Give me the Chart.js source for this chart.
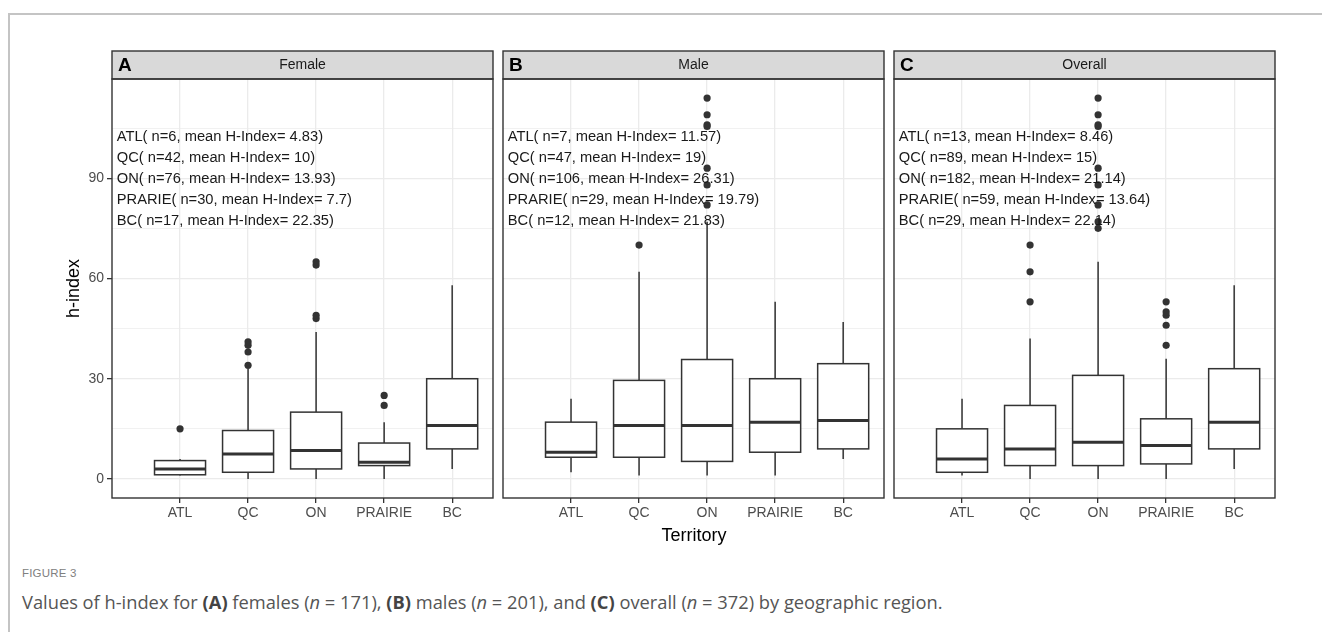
<!DOCTYPE html>
<html>
<head>
<meta charset="utf-8">
<script src="https://cdn.jsdelivr.net/npm/chart.js@4.4.1/dist/chart.umd.min.js"></script>
<style>
  body { margin: 0; background: #fff; width: 1322px; height: 632px; overflow: hidden; position: relative; font-family: 'Liberation Sans', Arial, sans-serif; }
  #frame { position: absolute; left: 8px; top: 13px; right: -4px; bottom: -4px; border-left: 2px solid #c4c4c4; border-top: 2px solid #c4c4c4; }
  canvas { position: absolute; }
  #xtitle { position: absolute; left: 594px; width: 200px; top: 525px; text-align: center; font-size: 18px; color: #000; }
  #figlabel { position: absolute; left: 22px; top: 567px; font-family: 'Liberation Sans Narrow', 'Liberation Sans', sans-serif; font-size: 11.5px; color: #808080; letter-spacing: 0.2px; }
  #caption { position: absolute; left: 22px; top: 589px; font-family: 'Open Sans', sans-serif; font-size: 18.3px; color: #555; }
  #caption b { color: #444; }
</style>
</head>
<body>
<div id="frame"></div>
<canvas id="panelA" width="440" height="490" style="left:60px; top:40px;"></canvas>
<canvas id="panelB" width="396" height="490" style="left:495px; top:40px;"></canvas>
<canvas id="panelC" width="396" height="490" style="left:886px; top:40px;"></canvas>
<div id="xtitle">Territory</div>
<div id="figlabel">FIGURE 3</div>
<div id="caption">Values of h-index for <b>(A)</b> females (<i>n</i> = 171), <b>(B)</b> males (<i>n</i> = 201), and <b>(C)</b> overall (<i>n</i> = 372) by geographic region.</div>

<script>
// categories on the x axis and the names used in the annotations
const categories = ['ATL', 'QC', 'ON', 'PRAIRIE', 'BC'];
const textNames = ['ATL', 'QC', 'ON', 'PRARIE', 'BC'];
const yTicks = [0, 15, 30, 45, 60, 75, 90, 105];
const textY = [102.3, 96, 89.9, 83.5, 77.2];

// Female
const femaleLow = [1, 0, 0, 0, 3];
const femaleQ1 = [1.25, 2, 3, 4, 9];
const femaleMedian = [3, 7.5, 8.5, 5, 16];
const femaleQ3 = [5.5, 14.5, 20, 10.75, 30];
const femaleHigh = [6, 33, 44, 17, 58];
const femaleOutliers = [[15], [34, 38, 40, 41], [48, 49, 64, 65], [22, 25], []];
const femaleN = [6, 42, 76, 30, 17];
const femaleMean = ['4.83', '10', '13.93', '7.7', '22.35'];

// Male
const maleLow = [2, 1, 1, 1, 6];
const maleQ1 = [6.5, 6.5, 5.25, 8, 9];
const maleMedian = [8, 16, 16, 17, 17.5];
const maleQ3 = [17, 29.5, 35.75, 30, 34.5];
const maleHigh = [24, 62, 77, 53, 47];
const maleOutliers = [[], [70], [82, 88, 93, 105.5, 106, 109, 114], [], []];
const maleN = [7, 47, 106, 29, 12];
const maleMean = ['11.57', '19', '26.31', '19.79', '21.83'];

// Overall
const overallLow = [1, 0, 0, 0, 3];
const overallQ1 = [2, 4, 4, 4.5, 9];
const overallMedian = [6, 9, 11, 10, 17];
const overallQ3 = [15, 22, 31, 18, 33];
const overallHigh = [24, 42, 65, 36, 58];
const overallOutliers = [[], [53, 62, 70], [75, 77, 82, 88, 93, 105.5, 106, 109, 114], [40, 46, 49, 50, 53], []];
const overallN = [13, 89, 182, 59, 29];
const overallMean = ['8.46', '15', '21.14', '13.64', '22.14'];

function makePanel(id, letter, title, low, q1, med, q3, high, outliers, nVals, means, showY) {
    const pts = [];
    outliers.forEach((list, i) => list.forEach(v => pts.push({x: i + 1, y: v})));

    // box, whiskers and median drawn from the scales
    const boxPlugin = {
        id: 'boxes' + id,
        beforeDatasetsDraw(chart) {
            const {ctx, scales: {x, y}} = chart;
            const hw = x.getPixelForValue(1.375) - x.getPixelForValue(1);
            ctx.save();
            ctx.strokeStyle = '#333';
            q1.forEach((q, i) => {
                const xc = x.getPixelForValue(i + 1);
                const y1 = y.getPixelForValue(q);
                const y3 = y.getPixelForValue(q3[i]);
                ctx.lineWidth = 1.5;
                ctx.beginPath();
                ctx.moveTo(xc, y3); ctx.lineTo(xc, y.getPixelForValue(high[i]));
                ctx.moveTo(xc, y1); ctx.lineTo(xc, y.getPixelForValue(low[i]));
                ctx.stroke();
                ctx.fillStyle = '#fff';
                ctx.fillRect(xc - hw, y3, 2 * hw, y1 - y3);
                ctx.strokeRect(xc - hw, y3, 2 * hw, y1 - y3);
                ctx.lineWidth = 3;
                const ym = y.getPixelForValue(med[i]);
                ctx.beginPath();
                ctx.moveTo(xc - hw, ym); ctx.lineTo(xc + hw, ym);
                ctx.stroke();
            });
            ctx.restore();
        },
        afterDatasetsDraw(chart) {
            const {ctx, scales: {x, y}} = chart;
            ctx.save();
            ctx.fillStyle = '#1a1a1a';
            ctx.font = '14.7px "Liberation Sans", Arial, sans-serif';
            ctx.textAlign = 'left';
            ctx.textBaseline = 'middle';
            textNames.forEach((name, i) => {
                const label = name + '( n=' + nVals[i] + ', mean H-Index= ' + means[i] + ')';
                ctx.fillText(label, x.getPixelForValue(0.07), y.getPixelForValue(textY[i]));
            });
            ctx.restore();
        },
        afterDraw(chart) {
            const {ctx, chartArea: a} = chart;
            ctx.save();
            // strip
            ctx.fillStyle = '#d9d9d9';
            ctx.fillRect(a.left, 11, a.right - a.left, a.top - 11);
            ctx.strokeStyle = '#333';
            ctx.lineWidth = 1.4;
            ctx.strokeRect(a.left, 11, a.right - a.left, a.top - 11);
            ctx.fillStyle = '#1a1a1a';
            ctx.font = '14px "Liberation Sans", Arial, sans-serif';
            ctx.textAlign = 'center';
            ctx.textBaseline = 'middle';
            ctx.fillText(title, (a.left + a.right) / 2, (11 + a.top) / 2);
            ctx.fillStyle = '#000';
            ctx.font = 'bold 19px "Liberation Sans", Arial, sans-serif';
            ctx.textAlign = 'left';
            ctx.fillText(letter, a.left + 6, (11 + a.top) / 2 + 1);
            // panel border
            ctx.strokeRect(a.left, a.top, a.right - a.left, a.bottom - a.top);
            ctx.restore();
        }
    };

    return new Chart(document.getElementById(id), {
        type: 'scatter',
        data: {
            datasets: [{
                data: pts,
                pointRadius: 3.6,
                pointHoverRadius: 3.6,
                pointBackgroundColor: '#333',
                pointBorderWidth: 0
            }]
        },
        options: {
            responsive: false,
            animation: false,
            events: [],
            layout: {padding: {top: 39, right: 7, left: 0, bottom: 0}},
            plugins: {legend: {display: false}, tooltip: {enabled: false}},
            scales: {
                x: {
                    type: 'linear',
                    min: 0,
                    max: 5.6,
                    afterBuildTicks: s => { s.ticks = categories.map((c, i) => ({value: i + 1})); },
                    afterFit: s => { s.height = 32; },
                    ticks: {
                        callback: v => categories[v - 1],
                        color: '#4d4d4d',
                        font: {size: 14, family: '"Liberation Sans", Arial, sans-serif'},
                        padding: 2,
                        maxRotation: 0,
                        autoSkip: false
                    },
                    grid: {color: '#ebebeb', lineWidth: 1.3, tickColor: '#333', tickLength: 5, tickWidth: 1.3},
                    border: {display: false}
                },
                y: {
                    min: -5.7,
                    max: 119.7,
                    afterBuildTicks: s => { s.ticks = yTicks.map(v => ({value: v})); },
                    afterFit: s => { s.width = showY ? 52 : 8; },
                    ticks: {
                        display: showY,
                        callback: v => (v % 30 === 0 ? String(v) : ''),
                        color: '#4d4d4d',
                        font: {size: 14, family: '"Liberation Sans", Arial, sans-serif'},
                        padding: 3
                    },
                    grid: {
                        color: '#ebebeb',
                        lineWidth: c => (c.tick && c.tick.value % 30 === 0 ? 1.3 : 0.7),
                        tickColor: c => (c.tick && c.tick.value % 30 === 0 ? '#333' : 'rgba(0,0,0,0)'),
                        drawTicks: showY,
                        tickLength: 5,
                        tickWidth: 1.3
                    },
                    title: {
                        display: showY,
                        text: 'h-index',
                        color: '#000',
                        font: {size: 18, family: '"Liberation Sans", Arial, sans-serif'},
                        padding: {top: 3, bottom: 0}
                    },
                    border: {display: false}
                }
            }
        },
        plugins: [boxPlugin]
    });
}

makePanel('panelA', 'A', 'Female', femaleLow, femaleQ1, femaleMedian, femaleQ3, femaleHigh, femaleOutliers, femaleN, femaleMean, true);
makePanel('panelB', 'B', 'Male', maleLow, maleQ1, maleMedian, maleQ3, maleHigh, maleOutliers, maleN, maleMean, false);
makePanel('panelC', 'C', 'Overall', overallLow, overallQ1, overallMedian, overallQ3, overallHigh, overallOutliers, overallN, overallMean, false);
</script>
</body>
</html>
